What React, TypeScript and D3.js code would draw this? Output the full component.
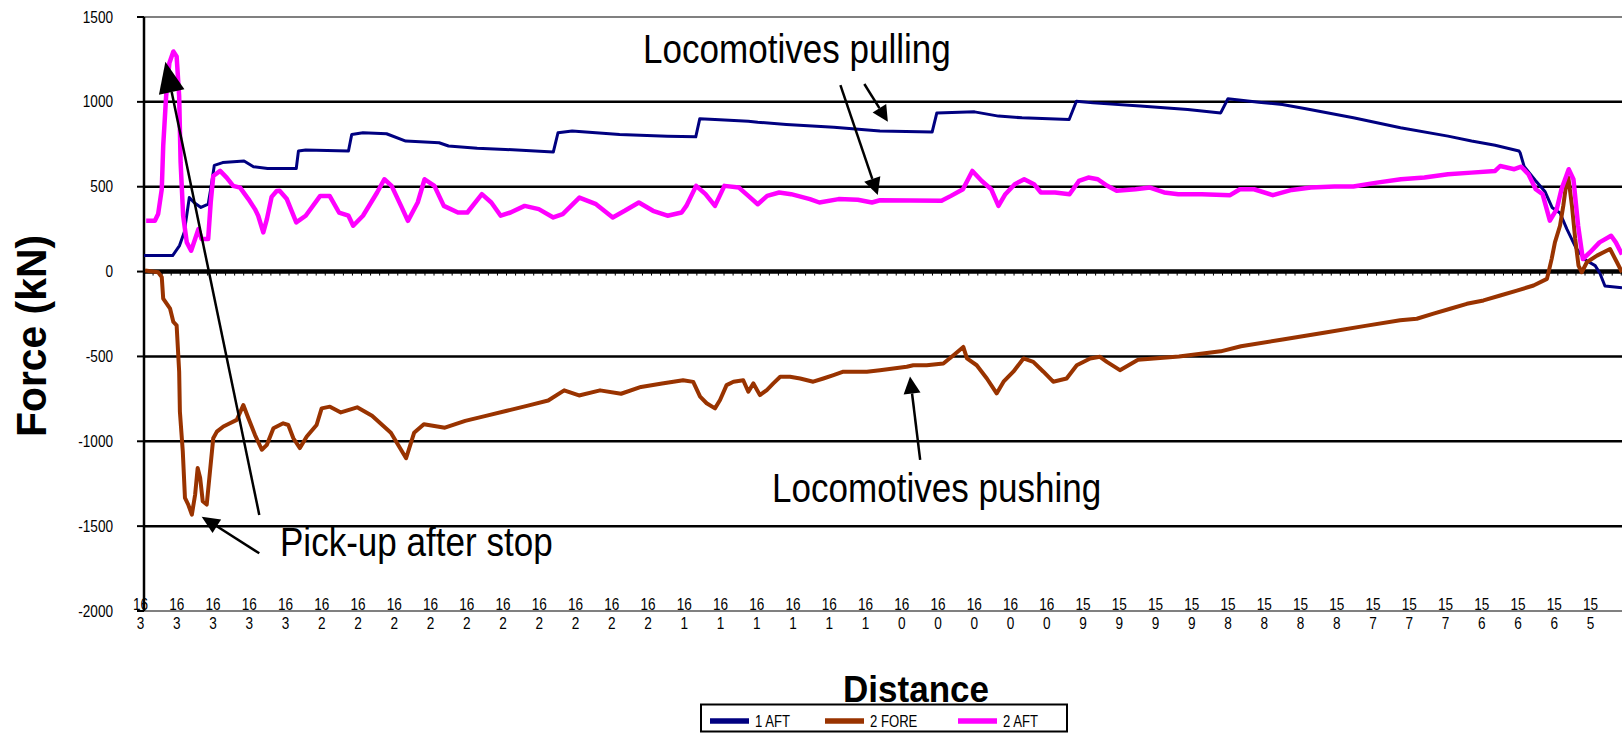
import React, { useEffect } from "react";
import * as d3 from "d3";

const WIDTH = 1622;
const HEIGHT = 733;

// one distance label every 100 samples (km, wrapped by the category axis)
const distanceLabels = [
  "163", "163", "163", "163", "163",
  "162", "162", "162", "162", "162", "162", "162", "162", "162", "162",
  "161", "161", "161", "161", "161", "161",
  "160", "160", "160", "160", "160",
  "159", "159", "159", "159",
  "158", "158", "158", "158",
  "157", "157", "157",
  "156", "156", "156",
  "155",
];
const labelEvery = 100;
const sampleCount = 4077;

const forceTicks = [1500, 1000, 500, 0, -500, -1000, -1500, -2000];

// [sample, kN]
const aftOne = [
  [0, 94], [79, 94], [98, 153], [111, 231], [125, 436], [138, 407], [157, 378], [177, 397],
  [184, 485], [194, 626], [217, 642], [276, 652], [302, 618], [341, 607], [420, 607], [426, 710],
  [446, 716], [564, 710], [573, 808], [604, 818], [669, 812], [722, 769], [814, 759], [840, 740],
  [919, 726], [997, 720], [1129, 704], [1142, 818], [1181, 828], [1312, 808], [1444, 798],
  [1522, 794], [1533, 900], [1575, 896], [1667, 886], [1693, 880], [1772, 867], [1903, 851],
  [2030, 828], [2174, 822], [2187, 935], [2291, 941], [2357, 916], [2422, 906], [2552, 896],
  [2572, 1004], [2618, 994], [2748, 975], [2879, 955], [2970, 935], [2990, 1018], [3075, 998],
  [3140, 984], [3205, 959], [3336, 906], [3466, 847], [3597, 798], [3662, 769], [3727, 744],
  [3793, 710], [3796, 700], [3807, 620], [3837, 540], [3865, 470], [3884, 378], [3906, 345],
  [3925, 250], [3950, 140], [3975, 70], [4003, 35], [4016, -10], [4030, -85], [4077, -95],
];

const foreTwo = [
  [3, 6], [39, -4], [49, -33], [53, -160], [72, -219], [81, -297], [90, -317], [97, -590],
  [99, -825], [107, -1060], [113, -1334], [122, -1373], [132, -1432], [141, -1315], [148, -1158],
  [155, -1217], [162, -1353], [173, -1373], [182, -1177], [191, -982], [201, -943], [219, -913],
  [237, -894], [256, -874], [274, -786], [288, -864], [306, -962], [325, -1050], [339, -1021],
  [357, -923], [384, -894], [398, -904], [412, -982], [430, -1040], [449, -972], [476, -904],
  [490, -806], [513, -796], [543, -830], [588, -800], [629, -850], [681, -950], [723, -1100],
  [745, -950], [772, -900], [830, -920], [886, -880], [943, -850], [1001, -820], [1059, -790],
  [1115, -760], [1159, -700], [1200, -730], [1258, -700], [1316, -720], [1371, -680],
  [1429, -660], [1487, -640], [1515, -650], [1534, -737], [1552, -776], [1575, -806],
  [1589, -757], [1607, -669], [1626, -649], [1653, -640], [1667, -708], [1681, -659],
  [1699, -728], [1718, -698], [1736, -659], [1755, -620], [1782, -620], [1810, -630],
  [1846, -649], [1874, -630], [1902, -610], [1929, -590], [1994, -590], [2030, -581],
  [2067, -571], [2104, -561], [2122, -552], [2159, -552], [2205, -542], [2233, -493],
  [2260, -444], [2270, -512], [2297, -552], [2325, -630], [2352, -718], [2371, -649],
  [2398, -590], [2426, -512], [2453, -532], [2481, -590], [2508, -649], [2545, -630],
  [2573, -552], [2610, -512], [2637, -502], [2656, -532], [2692, -581], [2742, -520],
  [2855, -500], [2970, -470], [3026, -440], [3141, -400], [3255, -360], [3369, -320],
  [3465, -287], [3511, -278], [3557, -248], [3603, -219], [3649, -190], [3695, -170],
  [3741, -141], [3787, -112], [3833, -82], [3870, -43], [3883, 75], [3892, 172], [3906, 270],
  [3915, 387], [3925, 544], [3929, 554], [3939, 387], [3948, 192], [3957, 35], [3966, -4],
  [3980, 55], [4008, 94], [4044, 133], [4063, 55], [4077, -4],
];

const aftTwo = [
  [6, 299], [30, 299], [39, 339], [49, 485], [53, 740], [61, 1033], [70, 1229], [81, 1297],
  [90, 1268], [97, 1033], [101, 643], [108, 329], [118, 172], [130, 123], [141, 192],
  [150, 250], [159, 192], [177, 192], [184, 407], [191, 563], [210, 593], [228, 554],
  [246, 505], [265, 495], [288, 427], [306, 368], [315, 329], [329, 231], [339, 309],
  [352, 440], [366, 475], [374, 476], [394, 427], [420, 290], [446, 329], [486, 446],
  [512, 446], [538, 348], [564, 329], [577, 270], [604, 329], [643, 466], [663, 544],
  [683, 505], [709, 387], [728, 299], [755, 407], [774, 544], [801, 505], [827, 387],
  [866, 348], [892, 348], [932, 456], [958, 407], [984, 329], [1011, 348], [1050, 387],
  [1089, 368], [1129, 319], [1155, 339], [1201, 436], [1247, 397], [1293, 319], [1326, 358],
  [1365, 407], [1404, 358], [1444, 329], [1483, 348], [1496, 387], [1523, 505], [1549, 456],
  [1575, 387], [1601, 505], [1641, 495], [1667, 446], [1693, 397], [1719, 446], [1752, 466],
  [1785, 456], [1837, 427], [1863, 407], [1916, 427], [1969, 423], [2008, 407], [2030, 420],
  [2200, 417], [2226, 446], [2259, 485], [2285, 593], [2311, 534], [2337, 485], [2357, 387],
  [2376, 456], [2402, 515], [2428, 544], [2455, 515], [2474, 466], [2513, 466], [2553, 456],
  [2579, 534], [2605, 554], [2631, 544], [2657, 505], [2683, 476], [2735, 485], [2775, 495],
  [2814, 466], [2853, 456], [2918, 456], [2996, 450], [3023, 485], [3062, 485], [3114, 450],
  [3166, 481], [3219, 495], [3284, 501], [3336, 501], [3401, 524], [3467, 544], [3532, 554],
  [3597, 573], [3662, 583], [3727, 593], [3741, 622], [3780, 603], [3799, 618], [3819, 573],
  [3839, 485], [3858, 456], [3878, 300], [3897, 368], [3910, 485], [3930, 603], [3943, 544],
  [3956, 270], [3969, 74], [3989, 114], [4015, 172], [4047, 211], [4060, 172], [4077, 100],
];

const seriesNames = ["1 AFT", "2 FORE", "2 AFT"];
const seriesColors = ["#000080", "#993300", "#FF00FF"];
const seriesWidths = [3, 4, 4.5];
const seriesData = [aftOne, foreTwo, aftTwo];

// annotation arrows in [sample, kN]: tail, tip
const arrows = [
  { from: [318, -1434], to: [59, 1237], head: 31, half: 13 },
  { from: [318, -1660], to: [159, -1444], head: 18, half: 8 },
  { from: [1921, 1099], to: [2024, 451], head: 17, half: 8.5 },
  { from: [1987, 1105], to: [2052, 883], head: 16, half: 8 },
  { from: [2141, -1110], to: [2113, -619], head: 17, half: 8.5 },
];

const FONT = "'Liberation Sans', Arial, Helvetica, sans-serif";

function SqText(props: {
  x: number; y: number; sx?: number; size: number; anchor?: string;
  weight?: string; children: React.ReactNode;
}) {
  const { x, y, sx = 0.85, size, anchor = "start", weight = "normal", children } = props;
  return (
    <text
      transform={`translate(${x},${y}) scale(${sx},1)`}
      textAnchor={anchor}
      fontSize={size}
      fontWeight={weight}
      fontFamily={FONT}
      fill="#000"
    >
      {children}
    </text>
  );
}

export default function App() {
  useEffect(() => {
    document.body.style.margin = "0";
    document.body.style.overflow = "hidden";
  }, []);

  const x = d3.scaleLinear().domain([0, sampleCount]).range([144, 1622]);
  const y = d3.scaleLinear().domain([-2000, 1500]).range([611, 17]);
  const line = d3
    .line<number[]>()
    .x((d) => x(d[0]))
    .y((d) => y(d[1]));

  const left = x(0);
  const right = x(sampleCount);
  const zeroTicks = d3.range(0, sampleCount, 25);

  return (
    <svg
      width={WIDTH}
      height={HEIGHT}
      style={{ position: "absolute", left: 0, top: 0, display: "block", background: "#fff" }}
    >
      {/* grid lines */}
      {forceTicks.map((t) => (
        <line
          key={t}
          x1={left}
          x2={right}
          y1={y(t)}
          y2={y(t)}
          stroke={t === 1500 || t === -2000 ? "#808080" : "#000"}
          strokeWidth={t === 0 ? 4.5 : t === 1500 || t === -2000 ? 2 : 2.5}
        />
      ))}
      {zeroTicks.map((s) => (
        <line key={s} x1={x(s)} x2={x(s)} y1={y(0)} y2={y(0) + 4} stroke="#000" strokeWidth={1} />
      ))}

      {/* y axis */}
      <line x1={left} x2={left} y1={y(1500)} y2={y(-2000)} stroke="#000" strokeWidth={2.5} />
      {forceTicks.map((t) => (
        <g key={t}>
          <line x1={left - 7} x2={left} y1={y(t)} y2={y(t)} stroke="#000" strokeWidth={2} />
          <SqText x={113} y={y(t) + 5.5} size={16} anchor="end">
            {t}
          </SqText>
        </g>
      ))}

      {/* category labels */}
      {distanceLabels.map((lab, i) => (
        <g key={i}>
          <SqText x={x(i * labelEvery) - 3.5} y={610} size={16} anchor="middle">
            {lab.slice(0, 2)}
          </SqText>
          <SqText x={x(i * labelEvery) - 3.5} y={629} size={16} anchor="middle">
            {lab.slice(2)}
          </SqText>
        </g>
      ))}

      {/* series */}
      {seriesData.map((d, i) => (
        <path
          key={seriesNames[i]}
          d={line(d) || ""}
          fill="none"
          stroke={seriesColors[i]}
          strokeWidth={seriesWidths[i]}
          strokeLinejoin="round"
        />
      ))}

      {/* arrows */}
      {arrows.map((a, i) => {
        const x1 = x(a.from[0]);
        const y1 = y(a.from[1]);
        const x2 = x(a.to[0]);
        const y2 = y(a.to[1]);
        const ang = Math.atan2(y2 - y1, x2 - x1);
        const bx = x2 - a.head * Math.cos(ang);
        const by = y2 - a.head * Math.sin(ang);
        const px = -Math.sin(ang) * a.half;
        const py = Math.cos(ang) * a.half;
        return (
          <g key={i}>
            <line x1={x1} y1={y1} x2={bx} y2={by} stroke="#000" strokeWidth={2.5} />
            <polygon
              points={`${x2},${y2} ${bx + px},${by + py} ${bx - px},${by - py}`}
              fill="#000"
            />
          </g>
        );
      })}

      {/* annotations */}
      <SqText x={643} y={63} size={41} sx={0.855}>Locomotives pulling</SqText>
      <SqText x={772} y={501.5} size={41} sx={0.855}>Locomotives pushing</SqText>
      <SqText x={280} y={556} size={41} sx={0.855}>Pick-up after stop</SqText>

      {/* axis titles */}
      <text
        transform="translate(46,336) rotate(-90)"
        textAnchor="middle"
        fontFamily={FONT}
        fontWeight="bold"
        fontSize={43}
        textLength={202}
        lengthAdjust="spacingAndGlyphs"
      >
        Force (kN)
      </text>
      <text
        x={843}
        y={701.5}
        fontFamily={FONT}
        fontWeight="bold"
        fontSize={36}
        textLength={146}
        lengthAdjust="spacingAndGlyphs"
      >
        Distance
      </text>

      {/* legend */}
      <rect x={701} y={704.5} width={366} height={27} fill="#fff" stroke="#000" strokeWidth={2} />
      {seriesNames.map((name, i) => {
        const lx = [710, 825, 958][i];
        return (
          <g key={name}>
            <line x1={lx} x2={lx + 39} y1={721} y2={721} stroke={seriesColors[i]} strokeWidth={5.5} />
            <SqText x={lx + 45} y={727} size={16} sx={0.82}>
              {name}
            </SqText>
          </g>
        );
      })}
    </svg>
  );
}
